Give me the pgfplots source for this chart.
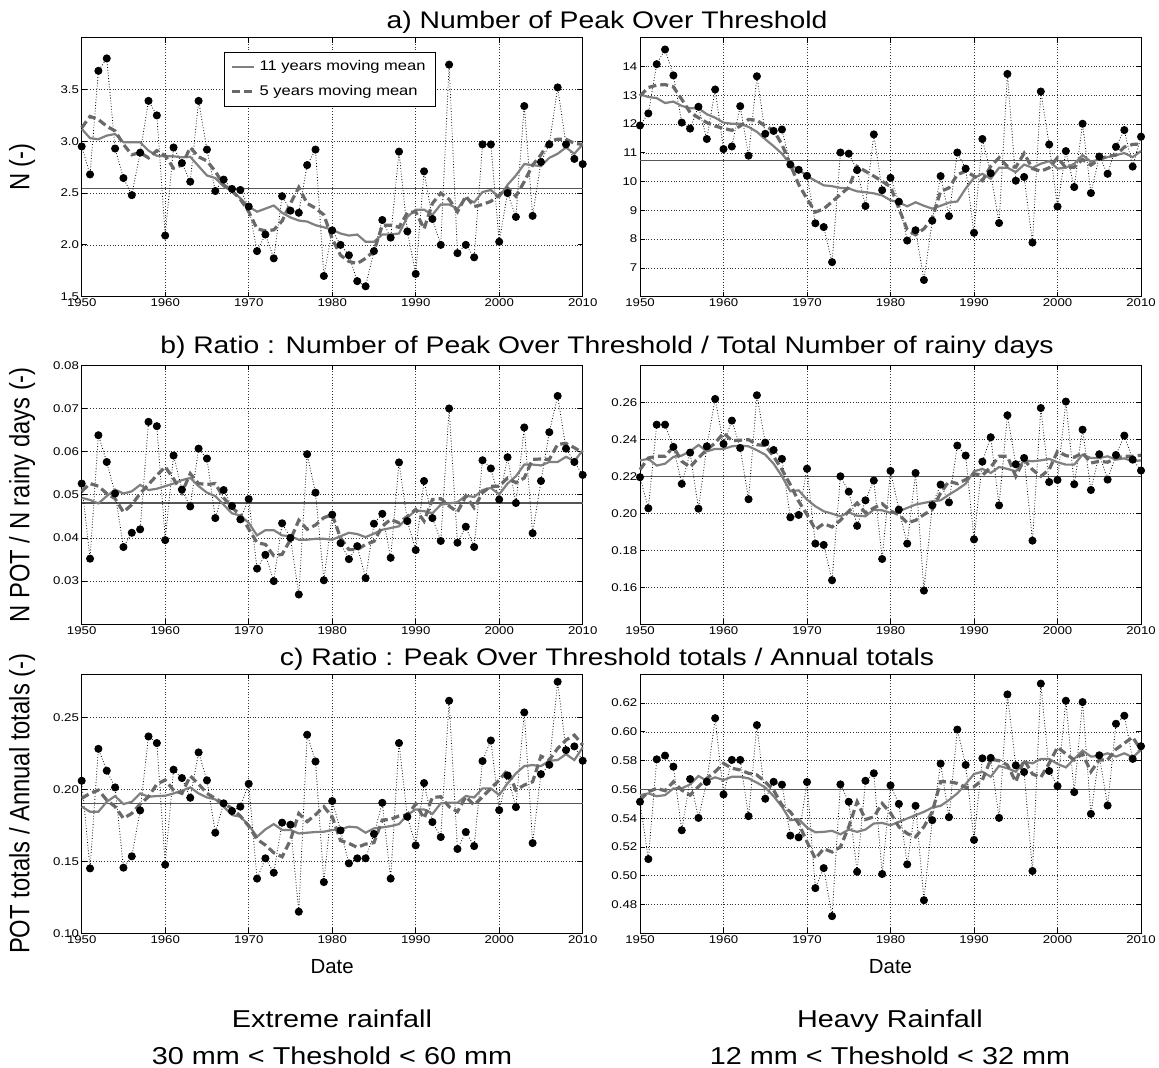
\documentclass[border=0pt]{standalone}
\usepackage{pgfplots}
\pgfplotsset{compat=1.18}
\usepackage{pgfplotstable}
\usepackage{fontspec}
\setmainfont{Liberation Sans}[FakeStretch=1.18]
\newfontfamily\yfont{Liberation Sans}[FakeStretch=0.85]
\newfontfamily\plainfont{Liberation Sans}
\definecolor{gMA}{RGB}{128,128,128}
\definecolor{gMF}{RGB}{105,105,105}
\definecolor{gMean}{RGB}{85,85,85}

\pgfplotstableread{
year v m11 m5
1950 2.95 3.12 3.13
1951 2.68 3.03 3.24
1952 3.68 3.02 3.21
1953 3.80 3.055 3.145
1954 2.93 3.07 3.10
1955 2.645 2.99 2.97
1956 2.48 2.99 2.87
1957 2.89 2.99 2.89
1958 3.39 2.91 2.84
1959 3.25 2.86 2.91
1960 2.09 2.855 2.86
1961 2.94 2.855 2.74
1962 2.79 2.845 2.77
1963 2.61 2.85 2.94
1964 3.39 2.76 2.85
1965 2.92 2.67 2.81
1966 2.52 2.645 2.71
1967 2.63 2.565 2.58
1968 2.54 2.52 2.52
1969 2.53 2.45 2.44
1970 2.37 2.37 2.32
1971 1.94 2.32 2.155
1972 2.10 2.35 2.135
1973 1.87 2.38 2.145
1974 2.47 2.31 2.23
1975 2.33 2.265 2.40
1976 2.31 2.235 2.555
1977 2.77 2.225 2.40
1978 2.92 2.19 2.355
1979 1.70 2.17 2.29
1980 2.14 2.145 2.06
1981 2.00 2.11 1.90
1982 1.90 2.09 1.84
1983 1.65 2.10 1.82
1984 1.60 2.03 1.87
1985 1.94 2.03 1.94
1986 2.24 2.10 2.19
1987 2.07 2.10 2.19
1988 2.90 2.11 2.17
1989 2.13 2.27 2.31
1990 1.72 2.34 2.32
1991 2.71 2.34 2.155
1992 2.25 2.29 2.40
1993 2.00 2.39 2.50
1994 3.74 2.39 2.44
1995 1.92 2.35 2.32
1996 2.00 2.45 2.47
1997 1.88 2.41 2.37
1998 2.97 2.51 2.39
1999 2.97 2.53 2.42
2000 2.03 2.46 2.48
2001 2.50 2.58 2.55
2002 2.27 2.67 2.47
2003 3.34 2.78 2.61
2004 2.28 2.77 2.77
2005 2.80 2.76 2.87
2006 2.97 2.84 3.00
2007 3.52 2.88 3.02
2008 2.97 2.94 3.02
2009 2.83 2.88 2.98
2010 2.78 2.97 2.97
}\tal

\pgfplotstableread{
year v m11 m5
1950 11.95 13.03 12.98
1951 12.37 12.94 13.27
1952 14.08 12.90 13.35
1953 14.59 12.73 13.37
1954 13.69 12.78 13.29
1955 12.05 12.63 12.86
1956 11.84 12.55 12.40
1957 12.60 12.55 12.22
1958 11.48 12.34 12.05
1959 13.20 12.22 11.93
1960 11.13 12.05 11.85
1961 11.22 12.01 11.78
1962 12.62 12.01 11.93
1963 10.90 11.90 12.16
1964 13.66 11.73 12.13
1965 11.66 11.47 11.93
1966 11.76 11.23 11.78
1967 11.81 10.97 11.29
1968 10.59 10.59 10.59
1969 10.41 10.42 9.90
1970 10.20 10.19 9.40
1971 8.55 10.03 8.94
1972 8.42 9.87 9.05
1973 7.20 9.84 9.30
1974 11.01 9.78 9.55
1975 10.97 9.76 9.80
1976 10.40 9.66 10.53
1977 9.15 9.63 10.36
1978 11.64 9.59 10.19
1979 9.70 9.52 10.01
1980 10.13 9.35 9.82
1981 9.30 9.28 9.07
1982 7.95 9.14 8.33
1983 8.31 9.28 8.15
1984 6.58 9.16 8.36
1985 8.64 9.06 8.73
1986 10.19 9.16 9.66
1987 8.80 9.27 9.78
1988 11.01 9.31 10.24
1989 10.45 9.76 10.36
1990 8.22 10.13 10.19
1991 11.48 10.27 10.03
1992 10.29 10.10 10.53
1993 8.56 10.48 10.83
1994 13.74 10.48 10.53
1995 10.03 10.33 10.50
1996 10.16 10.59 10.98
1997 7.88 10.48 10.45
1998 13.13 10.62 10.36
1999 11.29 10.71 10.48
2000 9.13 10.45 10.83
2001 11.06 10.48 10.48
2002 9.81 10.62 10.50
2003 12.01 10.92 10.77
2004 9.60 10.69 10.57
2005 10.87 10.77 10.77
2006 10.27 10.85 10.88
2007 11.21 10.92 10.92
2008 11.79 10.99 11.20
2009 10.52 10.85 11.29
2010 11.56 11.06 11.31
}\tar

\pgfplotstableread{
year v m11 m5
1950 0.0526 0.0493 0.0508
1951 0.0352 0.0488 0.0526
1952 0.0638 0.0480 0.0520
1953 0.0576 0.0497 0.0503
1954 0.0503 0.0512 0.0491
1955 0.0379 0.0503 0.0460
1956 0.0412 0.0508 0.0477
1957 0.0420 0.0523 0.0503
1958 0.0669 0.0511 0.0524
1959 0.0659 0.0514 0.0545
1960 0.0395 0.0520 0.0565
1961 0.0591 0.0526 0.0537
1962 0.0512 0.0534 0.0505
1963 0.0473 0.0539 0.0549
1964 0.0607 0.0520 0.0526
1965 0.0584 0.0505 0.0524
1966 0.0446 0.0497 0.0526
1967 0.0511 0.0477 0.0493
1968 0.0474 0.0457 0.0470
1969 0.0443 0.0452 0.0454
1970 0.0490 0.0435 0.0421
1971 0.0329 0.0406 0.0389
1972 0.0361 0.0418 0.0385
1973 0.0300 0.0418 0.0359
1974 0.0434 0.0406 0.0362
1975 0.0400 0.0404 0.0396
1976 0.0269 0.0396 0.0441
1977 0.0594 0.0396 0.0420
1978 0.0505 0.0398 0.0430
1979 0.0302 0.0398 0.0447
1980 0.0454 0.0396 0.0454
1981 0.0388 0.0404 0.0400
1982 0.0351 0.0412 0.0373
1983 0.0381 0.0409 0.0373
1984 0.0307 0.0402 0.0385
1985 0.0433 0.0410 0.0392
1986 0.0456 0.0419 0.0427
1987 0.0354 0.0423 0.0443
1988 0.0575 0.0427 0.0435
1989 0.0439 0.0447 0.0450
1990 0.0372 0.0464 0.0466
1991 0.0532 0.0462 0.0439
1992 0.0446 0.0457 0.0489
1993 0.0393 0.0477 0.0491
1994 0.0700 0.0480 0.0474
1995 0.0389 0.0483 0.0460
1996 0.0426 0.0498 0.0497
1997 0.0379 0.0495 0.0470
1998 0.0580 0.0511 0.0505
1999 0.0561 0.0516 0.0520
2000 0.0489 0.0501 0.0520
2001 0.0587 0.0526 0.0539
2002 0.0481 0.0543 0.0528
2003 0.0656 0.0570 0.0539
2004 0.0411 0.0570 0.0582
2005 0.0532 0.0568 0.0583
2006 0.0645 0.0576 0.0582
2007 0.0729 0.0576 0.0617
2008 0.0607 0.0588 0.0619
2009 0.0576 0.0578 0.0609
2010 0.0546 0.0603 0.0597
}\tbl

\pgfplotstableread{
year v m11 m5
1950 0.2195 0.2286 0.2236
1951 0.2027 0.2294 0.2299
1952 0.2479 0.2258 0.2308
1953 0.2479 0.2268 0.2308
1954 0.2359 0.2305 0.2359
1955 0.2159 0.2312 0.2281
1956 0.2328 0.2335 0.2250
1957 0.2025 0.2369 0.2299
1958 0.2362 0.2335 0.2344
1959 0.2618 0.2348 0.2380
1960 0.2375 0.2348 0.2434
1961 0.2501 0.2362 0.2393
1962 0.2353 0.2366 0.2395
1963 0.2076 0.2362 0.2398
1964 0.2638 0.2341 0.2371
1965 0.2382 0.2317 0.2366
1966 0.2342 0.2268 0.2308
1967 0.2294 0.2200 0.2236
1968 0.1978 0.2119 0.2155
1969 0.1991 0.2124 0.2065
1970 0.2241 0.2074 0.1993
1971 0.1836 0.2038 0.1912
1972 0.1829 0.2011 0.1944
1973 0.1638 0.1998 0.1926
1974 0.2200 0.1984 0.1962
1975 0.2117 0.2005 0.2011
1976 0.1932 0.1987 0.2056
1977 0.2070 0.1984 0.2002
1978 0.2177 0.2020 0.2029
1979 0.1753 0.2016 0.2052
1980 0.2229 0.2002 0.2012
1981 0.2020 0.2011 0.1993
1982 0.1836 0.2029 0.1948
1983 0.2218 0.2047 0.1962
1984 0.1582 0.2056 0.1993
1985 0.2043 0.2065 0.2020
1986 0.2155 0.2070 0.2110
1987 0.2059 0.2101 0.2173
1988 0.2366 0.2128 0.2160
1989 0.2312 0.2160 0.2182
1990 0.1859 0.2227 0.2214
1991 0.2279 0.2240 0.2205
1992 0.2411 0.2218 0.2250
1993 0.2043 0.2250 0.2308
1994 0.2530 0.2240 0.2308
1995 0.2265 0.2227 0.2200
1996 0.2299 0.2286 0.2290
1997 0.1852 0.2281 0.2236
1998 0.2569 0.2286 0.2200
1999 0.2169 0.2294 0.2236
2000 0.2180 0.2276 0.2335
2001 0.2604 0.2263 0.2312
2002 0.2157 0.2263 0.2303
2003 0.2452 0.2317 0.2326
2004 0.2126 0.2299 0.2272
2005 0.2319 0.2299 0.2281
2006 0.2182 0.2308 0.2276
2007 0.2315 0.2290 0.2299
2008 0.2420 0.2297 0.2308
2009 0.2290 0.2281 0.2308
2010 0.2231 0.2286 0.2314
}\tbr

\pgfplotstableread{
year v m11 m5
1950 0.2060 0.1880 0.1938
1951 0.1451 0.1845 0.1972
1952 0.2282 0.1845 0.1995
1953 0.2130 0.1914 0.1926
1954 0.2014 0.1954 0.1880
1955 0.1456 0.1898 0.1799
1956 0.1535 0.1914 0.1833
1957 0.1854 0.1972 0.1898
1958 0.2368 0.1949 0.1949
1959 0.2322 0.1954 0.2037
1960 0.1477 0.1956 0.2065
1961 0.2137 0.1972 0.1995
1962 0.2079 0.1991 0.1972
1963 0.1942 0.2014 0.2093
1964 0.2257 0.1972 0.2037
1965 0.2063 0.1944 0.1972
1966 0.1699 0.1931 0.1938
1967 0.1903 0.1880 0.1903
1968 0.1850 0.1822 0.1868
1969 0.1880 0.1810 0.1815
1970 0.2039 0.1752 0.1745
1971 0.1380 0.1671 0.1653
1972 0.1521 0.1722 0.1613
1973 0.1421 0.1759 0.1560
1974 0.1769 0.1718 0.1532
1975 0.1755 0.1718 0.1648
1976 0.1150 0.1694 0.1833
1977 0.2380 0.1699 0.1776
1978 0.2194 0.1704 0.1824
1979 0.1356 0.1706 0.1880
1980 0.1919 0.1718 0.1810
1981 0.1715 0.1722 0.1644
1982 0.1486 0.1741 0.1625
1983 0.1521 0.1736 0.1597
1984 0.1521 0.1699 0.1620
1985 0.1690 0.1729 0.1630
1986 0.1907 0.1736 0.1787
1987 0.1380 0.1745 0.1792
1988 0.2322 0.1759 0.1815
1989 0.1810 0.1822 0.1822
1990 0.1611 0.1861 0.1898
1991 0.2044 0.1861 0.1799
1992 0.1773 0.1829 0.1944
1993 0.1669 0.1903 0.1949
1994 0.2616 0.1907 0.1880
1995 0.1586 0.1907 0.1845
1996 0.1704 0.1954 0.1949
1997 0.1606 0.1944 0.1891
1998 0.2197 0.2007 0.1949
1999 0.2340 0.2007 0.2007
2000 0.1856 0.1961 0.2065
2001 0.2097 0.2042 0.2134
2002 0.1877 0.2111 0.1995
2003 0.2535 0.2162 0.2030
2004 0.1627 0.2169 0.2053
2005 0.2106 0.2162 0.2231
2006 0.2171 0.2199 0.2204
2007 0.2748 0.2204 0.2285
2008 0.2273 0.2245 0.2343
2009 0.2299 0.2204 0.2377
2010 0.2199 0.2292 0.2308
}\tcl

\pgfplotstableread{
year v m11 m5
1950 0.5514 0.5560 0.5526
1951 0.5116 0.5572 0.5584
1952 0.5809 0.5553 0.5607
1953 0.5835 0.5560 0.5591
1954 0.5758 0.5607 0.5653
1955 0.5316 0.5607 0.5595
1956 0.5672 0.5635 0.5560
1957 0.5402 0.5693 0.5619
1958 0.5653 0.5660 0.5677
1959 0.6095 0.5684 0.5723
1960 0.5565 0.5665 0.5781
1961 0.5805 0.5688 0.5747
1962 0.5805 0.5688 0.5735
1963 0.5414 0.5677 0.5712
1964 0.6047 0.5647 0.5700
1965 0.5535 0.5614 0.5653
1966 0.5653 0.5553 0.5595
1967 0.5633 0.5479 0.5491
1968 0.5279 0.5386 0.5444
1969 0.5267 0.5393 0.5363
1970 0.5651 0.5335 0.5235
1971 0.4914 0.5302 0.5119
1972 0.5053 0.5305 0.5188
1973 0.4719 0.5312 0.5165
1974 0.5635 0.5288 0.5200
1975 0.5514 0.5321 0.5340
1976 0.5028 0.5305 0.5514
1977 0.5660 0.5321 0.5391
1978 0.5712 0.5363 0.5409
1979 0.5012 0.5367 0.5502
1980 0.5628 0.5351 0.5437
1981 0.5499 0.5374 0.5340
1982 0.5079 0.5398 0.5293
1983 0.5486 0.5421 0.5270
1984 0.4830 0.5444 0.5340
1985 0.5386 0.5474 0.5444
1986 0.5779 0.5486 0.5653
1987 0.5407 0.5526 0.5653
1988 0.6016 0.5572 0.5642
1989 0.5770 0.5637 0.5614
1990 0.5249 0.5707 0.5619
1991 0.5816 0.5723 0.5665
1992 0.5819 0.5688 0.5809
1993 0.5402 0.5763 0.5800
1994 0.6260 0.5747 0.5770
1995 0.5767 0.5723 0.5653
1996 0.5721 0.5793 0.5805
1997 0.5033 0.5781 0.5707
1998 0.6335 0.5812 0.5684
1999 0.5728 0.5812 0.5781
2000 0.5623 0.5777 0.5893
2001 0.6216 0.5753 0.5847
2002 0.5581 0.5812 0.5805
2003 0.6207 0.5870 0.5847
2004 0.5430 0.5828 0.5723
2005 0.5837 0.5833 0.5805
2006 0.5488 0.5851 0.5805
2007 0.6056 0.5828 0.5879
2008 0.6112 0.5851 0.5921
2009 0.5812 0.5823 0.5963
2010 0.5900 0.5874 0.5874
}\tcr

\pgfplotsset{
  panel/.style={
    scale only axis, width=250.5pt, height=129.5pt,
    xmin=1950, xmax=2010, xtick={1950,1960,1970,1980,1990,2000,2010},
    scaled ticks=false,
    xticklabel style={/pgf/number format/1000 sep={}, inner sep=1pt},
    yticklabel style={inner sep=1.2pt},
    tick label style={font=\fontsize{5.6pt}{6.5pt}\selectfont},
    /pgf/number format/assume math mode=true,
    grid=major,
    major grid style={densely dotted, black!80, line width=0.3pt},
    axis line style={line width=0.5pt},
    tick align=inside, major tick length=2.5pt,
    every tick/.style={black, line width=0.4pt},
    clip=false,
    ylabel style={at={(axis description cs:-0.119,0.5)}, anchor=center,
      font=\yfont\fontsize{14pt}{16pt}\selectfont},
    xlabel style={at={(axis description cs:0.5,-0.154)}, anchor=base,
      font=\plainfont\fontsize{10.2pt}{12pt}\selectfont},
  },
  fmt1/.style={yticklabel style={/pgf/number format/fixed,
      /pgf/number format/fixed zerofill, /pgf/number format/precision=1}},
  fmt2/.style={yticklabel style={/pgf/number format/fixed,
      /pgf/number format/fixed zerofill, /pgf/number format/precision=2}},
  obs/.style={black, densely dotted, line width=0.4pt, mark=*, mark size=1.8pt,
    mark options={solid, fill=black}},
  ma11/.style={gMA, line width=1.1pt, no marks},
  ma5/.style={gMF, line width=1.6pt, dash pattern=on 4pt off 2pt, no marks},
  meanl/.style={gMean, line width=0.6pt, no marks},
}

\begin{document}
\begin{tikzpicture}
\useasboundingbox (0,0) rectangle (579.5pt,534pt);

% ---------- a) left
\begin{axis}[panel, at={(40.85pt,385.65pt)}, anchor=south west,
  ymin=1.5, ymax=4, ytick={1.5,2,2.5,3,3.5}, fmt1,
  ylabel={N (-)},
  legend style={at={(0.284,0.946)}, anchor=north west,
    font=\fontsize{7pt}{8pt}\selectfont, draw=black, line width=0.5pt,
    inner xsep=3pt, inner ysep=2pt, row sep=2pt, legend cell align=left},
  legend image code/.code={\draw[#1] (0pt,0pt) -- (11pt,0pt);}]
\addplot[meanl, forget plot] coordinates {(1950,2.545) (2010,2.545)};
\addplot[obs, forget plot] table[x=year,y=v]{\tal};
\addplot[ma11] table[x=year,y=m11]{\tal};
\addlegendentry{11 years moving mean}
\addplot[ma5] table[x=year,y=m5]{\tal};
\addlegendentry{5 years moving mean}
\end{axis}

% ---------- a) right
\begin{axis}[panel, at={(320pt,385.65pt)}, anchor=south west,
  ymin=6, ymax=15, ytick={7,8,9,10,11,12,13,14}]
\addplot[meanl] coordinates {(1950,10.74) (2010,10.74)};
\addplot[obs] table[x=year,y=v]{\tar};
\addplot[ma11] table[x=year,y=m11]{\tar};
\addplot[ma5] table[x=year,y=m5]{\tar};
\end{axis}

% ---------- b) left
\begin{axis}[panel, at={(40.85pt,221.85pt)}, anchor=south west,
  ymin=0.02, ymax=0.08, ytick={0.03,0.04,0.05,0.06,0.07,0.08}, fmt2,
  ylabel={N POT / N rainy days (-)}]
\addplot[meanl] coordinates {(1950,0.0481) (2010,0.0481)};
\addplot[obs] table[x=year,y=v]{\tbl};
\addplot[ma11] table[x=year,y=m11]{\tbl};
\addplot[ma5] table[x=year,y=m5]{\tbl};
\end{axis}

% ---------- b) right
\begin{axis}[panel, at={(320pt,221.85pt)}, anchor=south west,
  ymin=0.14, ymax=0.28, ytick={0.16,0.18,0.20,0.22,0.24,0.26}, fmt2]
\addplot[meanl] coordinates {(1950,0.22) (2010,0.22)};
\addplot[obs] table[x=year,y=v]{\tbr};
\addplot[ma11] table[x=year,y=m11]{\tbr};
\addplot[ma5] table[x=year,y=m5]{\tbr};
\end{axis}

% ---------- c) left
\begin{axis}[panel, at={(40.85pt,67.35pt)}, anchor=south west,
  ymin=0.10, ymax=0.28, ytick={0.10,0.15,0.20,0.25}, fmt2,
  ylabel={POT totals / Annual totals (-)}, xlabel={Date}]
\addplot[meanl] coordinates {(1950,0.19) (2010,0.19)};
\addplot[obs] table[x=year,y=v]{\tcl};
\addplot[ma11] table[x=year,y=m11]{\tcl};
\addplot[ma5] table[x=year,y=m5]{\tcl};
\end{axis}

% ---------- c) right
\begin{axis}[panel, at={(320pt,67.35pt)}, anchor=south west,
  ymin=0.46, ymax=0.64, ytick={0.48,0.50,0.52,0.54,0.56,0.58,0.60,0.62}, fmt2,
  xlabel={Date}]
\addplot[meanl] coordinates {(1950,0.56) (2010,0.56)};
\addplot[obs] table[x=year,y=v]{\tcr};
\addplot[ma11] table[x=year,y=m11]{\tcr};
\addplot[ma5] table[x=year,y=m5]{\tcr};
\end{axis}

% ---------- titles
\node[anchor=base, font=\fontsize{12pt}{14pt}\selectfont] at (303.5pt,519.85pt)
  {a) Number of Peak Over Threshold};
\node[anchor=base, font=\fontsize{12pt}{14pt}\selectfont] at (303.5pt,357.35pt)
  {b) Ratio : Number of Peak Over Threshold / Total Number of rainy days};
\node[anchor=base, font=\fontsize{12pt}{14pt}\selectfont] at (303.5pt,201pt)
  {c) Ratio : Peak Over Threshold totals / Annual totals};

% ---------- bottom captions
\node[anchor=base, font=\fontsize{12.2pt}{14pt}\selectfont] at (166pt,20.35pt) {Extreme rainfall};
\node[anchor=base, font=\fontsize{12.2pt}{14pt}\selectfont] at (166pt,1.6pt) {30 mm < Theshold < 60 mm};
\node[anchor=base, font=\fontsize{12.2pt}{14pt}\selectfont] at (445pt,20.35pt) {Heavy Rainfall};
\node[anchor=base, font=\fontsize{12.2pt}{14pt}\selectfont] at (445pt,1.6pt) {12 mm < Theshold < 32 mm};
\end{tikzpicture}
\end{document}
